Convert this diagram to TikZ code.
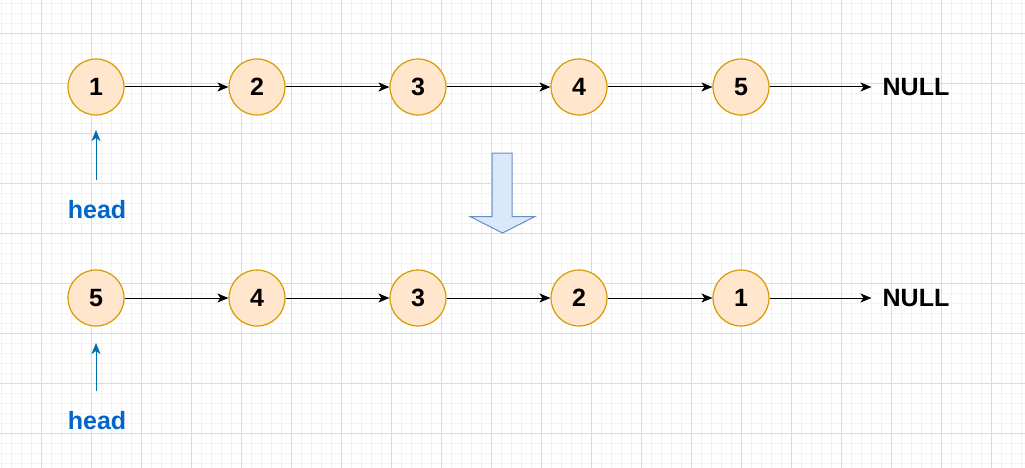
\documentclass[tikz,border=0pt]{standalone}
\usepackage{fontspec}
\setmainfont{Liberation Sans}
\usetikzlibrary{arrows.meta}
\definecolor{nodefill}{HTML}{FFE6CC}
\definecolor{nodeline}{HTML}{D79B00}
\definecolor{headblue}{HTML}{0066CC}
\definecolor{headline}{HTML}{006EAF}
\definecolor{bigfill}{HTML}{DAE8FC}
\definecolor{bigline}{HTML}{6C8EBF}
\begin{document}
\begin{tikzpicture}[x=1pt,y=-1pt,>={Stealth[length=11pt,width=9pt,inset=3pt]}]

\tikzset{listnode/.style={circle,minimum size=56pt,inner sep=0pt,draw=nodeline,fill=nodefill,line width=1.2pt,font=\fontsize{25}{30}\selectfont\bfseries},}
\tikzset{nulltext/.style={inner sep=0pt,font=\fontsize{25}{30}\selectfont\bfseries},}
\tikzset{headtext/.style={inner sep=0pt,text=headblue,font=\fontsize{25}{30}\selectfont\bfseries},}

\useasboundingbox (0,0) rectangle (1025,468);
\fill[white] (0,0) rectangle (1025,468);

  %grid
  \foreach \i in {0,...,102} \draw[black!5,line width=0.8pt] (\i*10+1.7,0) -- (\i*10+1.7,468);
  \foreach \i in {0,...,46} \draw[black!5,line width=0.8pt] (0,\i*10+3.3) -- (1025,\i*10+3.3);
  \foreach \i in {0,...,20} \draw[black!14,line width=0.8pt] (\i*50+41.7,0) -- (\i*50+41.7,468);
  \foreach \i in {0,...,9} \draw[black!14,line width=0.8pt] (0,\i*50+33.3) -- (1025,\i*50+33.3);

  \draw (96,87) node[listnode](a1) {1};
  \draw (257,87) node[listnode](a2) {2};
  \draw (418,87) node[listnode](a3) {3};
  \draw (579,87) node[listnode](a4) {4};
  \draw (741,87) node[listnode](a5) {5};
  \draw (916,87) node[nulltext](null1) {NULL};
  \draw (97,210) node[headtext](h1) {head};

  \draw (96,298) node[listnode](b1) {5};
  \draw (257,298) node[listnode](b2) {4};
  \draw (418,298) node[listnode](b3) {3};
  \draw (579,298) node[listnode](b4) {2};
  \draw (741,298) node[listnode](b5) {1};
  \draw (916,298) node[nulltext](null2) {NULL};
  \draw (97,421) node[headtext](h2) {head};

  \coordinate (ht1) at (96,130);
  \coordinate (hs1) at (96,180);
  \coordinate (ht2) at (96,343);
  \coordinate (hs2) at (96,391);

  %edges for first list
    \draw[->, line width=1pt] (a1) -- (a2);
    \draw[->, line width=1pt] (a2) -- (a3);
    \draw[->, line width=1pt] (a3) -- (a4);
    \draw[->, line width=1pt] (a4) -- (a5);
    \draw[->, line width=1pt] (a5) -- ([xshift=-11pt]null1.west);
    \draw[->, headline, line width=1pt] (hs1) -- (ht1);

  %edges for reversed list
    \draw[->, line width=1pt] (b1) -- (b2);
    \draw[->, line width=1pt] (b2) -- (b3);
    \draw[->, line width=1pt] (b3) -- (b4);
    \draw[->, line width=1pt] (b4) -- (b5);
    \draw[->, line width=1pt] (b5) -- ([xshift=-11pt]null2.west);
    \draw[->, headline, line width=1pt] (hs2) -- (ht2);

  %big arrow
    \draw[bigline, fill=bigfill, line width=1pt] (492,153) -- (512,153) -- (512,216.5) -- (535,216.5) -- (502.5,233) -- (470,216.5) -- (492,216.5) -- cycle;

\end{tikzpicture}
\end{document}
